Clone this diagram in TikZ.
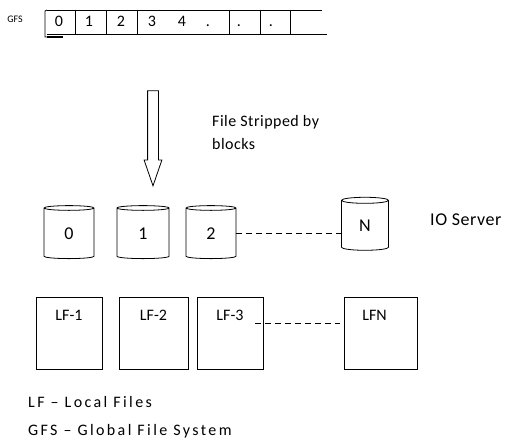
\documentclass[tikz,border=0pt]{standalone}
\usepackage{fontspec}
\setmainfont{Carlito}
\newfontfamily\wideA[LetterSpace=3]{Carlito}
\newfontfamily\wideB[LetterSpace=15]{Carlito}
\usetikzlibrary{shapes.geometric,shapes.arrows}

\tikzstyle{txt} = [inner sep=0pt, font=\fontsize{16}{19}\selectfont]
\tikzstyle{cell} = [inner sep=0pt, anchor=base, font=\fontsize{16}{19}\selectfont]
\tikzstyle{line} = [line width=0.8pt, black]
\tikzstyle{dashline} = [line width=0.8pt, dash pattern=on 6pt off 4pt]
\tikzstyle{disk} = [cylinder, shape border rotate=90, aspect=0.52, draw=black, line width=0.8pt, minimum width=50pt, minimum height=53pt, inner sep=0pt, font=\fontsize{18}{22}\selectfont]
\tikzstyle{lfbox} = [rectangle, draw=black, line width=0.8pt, minimum width=66pt, minimum height=72pt, inner sep=0pt]
\tikzstyle{bigarrow} = [single arrow, draw=black, line width=0.8pt, shape border rotate=270, minimum height=95pt, minimum width=17pt, single arrow head extend=3.5pt, single arrow tip angle=38, inner sep=5pt]

\begin{document}
\begin{tikzpicture}[x=1pt, y=-1pt, node distance=74pt]
\useasboundingbox (0,0) rectangle (506,438);

% GFS strip
\node (gfs) [txt, font=\fontsize{10}{12}\selectfont] at (15,19) {GFS};
\draw [line] (47,10) -- (322,10);
\draw [line] (47,34) -- (327,34);
\draw [line] (47,10) -- (45,11) -- (45,37) -- (47,37);
\draw [line width=1.2pt] (47,37) -- (63,37);
\draw [line] (75,10) -- (75,34);
\draw [line] (106,10) -- (106,34);
\draw [line] (137,10) -- (137,34);
\draw [line] (229,10) -- (229,34);
\draw [line] (260,10) -- (260,34);
\draw [line] (290,10) -- (290,34);
\node (s0) [cell] at (59,27) {0};
\node (s1) [cell] at (89,27) {1};
\node (s2) [cell] at (121,27) {2};
\node (s3) [cell] at (152,27) {3};
\node (s4) [cell] at (182,27) {4};
\node (s5) [cell] at (208,27) {.};
\node (s6) [cell] at (239,27) {.};
\node (s7) [cell] at (271,27) {.};

% Striping
\node (split) [bigarrow] at (153,130.5) {};
\node (fsb) [txt, font=\wideA\fontsize{16}{19}\selectfont, anchor=base west] at (212,127) {File Stripped by};
\node (blk) [txt, font=\wideA\fontsize{16}{19}\selectfont, anchor=base west] at (212,150) {blocks};

% IO servers
\node (d0) [disk] at (69,233.5) {0};
\node (d1) [disk, right of=d0, minimum width=52pt] {1};
\node (d2) [disk, right of=d1, xshift=-6pt] {2};
\node (dN) [disk, right of=d2, xshift=80pt, yshift=8pt, minimum width=47pt] {N};
\node (ios) [txt, font=\wideA\fontsize{18}{22}\selectfont, anchor=west] at (430,220) {IO Server};
\draw [dashline] (d2.east) -- (d2.east -| dN.west);

% Local files
\node (lf1) [lfbox, label={[txt, anchor=north, yshift=-13pt]north:LF-1}] at (69,333) {};
\node (lf2) [lfbox, right of=lf1, xshift=10.5pt, minimum width=69pt, label={[txt, anchor=north, yshift=-13pt]north:LF-2}] {};
\node (lf3) [lfbox, right of=lf2, xshift=2.5pt, label={[txt, anchor=north, yshift=-13pt]north:LF-3}] {};
\node (lfN) [lfbox, right of=lf3, xshift=76.5pt, minimum width=73pt, label={[txt, anchor=north, yshift=-13pt, xshift=-6pt]north:LFN}] {};
\draw [dashline] ([xshift=-8pt, yshift=10pt]lf3.east) -- ([xshift=-4pt, yshift=10pt]lfN.west);

% Legend
\node (leg1) [txt, font=\wideB\fontsize{16}{19}\selectfont, anchor=base west] at (28,407) {LF – Local Files};
\node (leg2) [txt, font=\wideB\fontsize{16}{19}\selectfont, anchor=base west] at (28,435) {GFS – Global File System};
\end{tikzpicture}
\end{document}
